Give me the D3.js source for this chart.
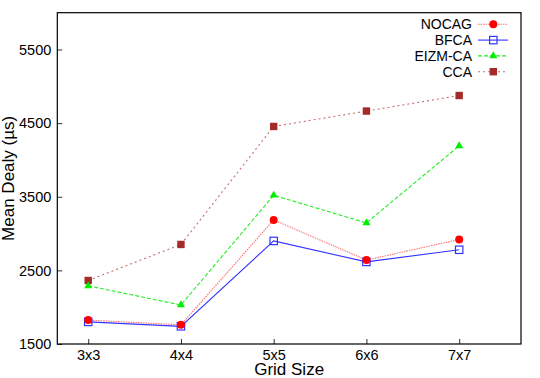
<!DOCTYPE html>
<html>
<head>
<meta charset="utf-8">
<script src="https://cdn.jsdelivr.net/npm/d3@7"></script>
<style>
  body { margin: 0; background: #fff; }
  svg text { font-family: "Liberation Sans", Arial, sans-serif; fill: #000; }
</style>
</head>
<body>
<div id="chart"></div>
<script>
const categories = ["3x3", "4x4", "5x5", "6x6", "7x7"]
const yTicks = [1500, 2500, 3500, 4500, 5500]

const nocag = [1825, 1760, 3185, 2640, 2920]
const bfca  = [1800, 1740, 2900, 2615, 2780]
const eizm  = [2290, 2030, 3520, 3145, 4192]
const cca   = [2363, 2852, 4455, 4664, 4875]

const seriesNames = ["NOCAG", "BFCA", "EIZM-CA", "CCA"]

const config = { width: 540, height: 378 }
const margin = { left: 57.3, right: 19, top: 12.7, bottom: 34 }

const styles = {
    "NOCAG":   { line: "#ff7070", dash: "1.5,1", marker: "circle", fill: "#ff0000", stroke: "#ff0000" },
    "BFCA":    { line: "#3333ff", dash: null, marker: "square-open", fill: "none", stroke: "#3333ff" },
    "EIZM-CA": { line: "#22ee22", dash: "4,2", marker: "triangle", fill: "#00ee00", stroke: "#00ee00" },
    "CCA":     { line: "#c07070", dash: "2,3", marker: "square", fill: "#a52a2a", stroke: "#a52a2a" }
}

const data = [nocag, bfca, eizm, cca].map((vals, i) => ({
    name: seriesNames[i],
    values: vals.map((v, j) => ({ idx: j, value: v }))
}))

const svg = d3.select("#chart")
              .append("svg")
              .attr("width", config.width)
              .attr("height", config.height)

const xScale = d3.scaleLinear()
                 .domain([-1 / 3, categories.length - 1 / 3])
                 .range([margin.left, config.width - margin.right])

const yScale = d3.scaleLinear()
                 .domain([1500, 6000])
                 .range([config.height - margin.bottom, margin.top])

const xAxis = d3.axisBottom(xScale)
                .tickValues(d3.range(categories.length))
                .tickFormat((i) => categories[i])
                .tickSizeInner(-5)
                .tickSizeOuter(0)
                .tickPadding(6)

const yAxis = d3.axisLeft(yScale)
                .tickValues(yTicks)
                .tickFormat(d3.format("d"))
                .tickSizeInner(-5)
                .tickSizeOuter(0)
                .tickPadding(6)

function styleAxis(g) {
    g.attr("font-size", null).attr("font-family", null)
    g.select(".domain").remove()
    g.selectAll("text").style("font-size", "14.5px")
    g.selectAll("line").attr("stroke", "#333")
}

svg.append("g")
   .attr("transform", `translate(0, ${config.height - margin.bottom})`)
   .call(xAxis)
   .call(styleAxis)

svg.append("g")
   .attr("transform", `translate(${margin.left}, 0)`)
   .call(yAxis)
   .call(styleAxis)

// frame
svg.append("rect")
   .attr("x", margin.left)
   .attr("y", margin.top)
   .attr("width", config.width - margin.right - margin.left)
   .attr("height", config.height - margin.bottom - margin.top)
   .attr("fill", "none")
   .attr("stroke", "#000")
   .attr("stroke-width", 1.2)

// axis titles
svg.append("text")
   .attr("x", (margin.left + config.width - margin.right) / 2)
   .attr("y", 375)
   .attr("text-anchor", "middle")
   .style("font-size", "17px")
   .text("Grid Size")

svg.append("text")
   .attr("transform", `translate(14, ${(margin.top + config.height - margin.bottom) / 2}) rotate(-90)`)
   .attr("text-anchor", "middle")
   .style("font-size", "17px")
   .text("Mean Dealy (µs)")

const line = d3.line()
               .x((d) => xScale(d.idx))
               .y((d) => yScale(d.value))

function drawMarker(g, type, x, y, st) {
    if (type === "circle") {
        g.append("circle").attr("cx", x).attr("cy", y).attr("r", 4)
         .attr("fill", st.fill)
    } else if (type === "square") {
        g.append("rect").attr("x", x - 3.7).attr("y", y - 3.7).attr("width", 7.4).attr("height", 7.4)
         .attr("fill", st.fill)
    } else if (type === "square-open") {
        g.append("rect").attr("x", x - 3.7).attr("y", y - 3.7).attr("width", 7.4).attr("height", 7.4)
         .attr("fill", "none").attr("stroke", st.stroke).attr("stroke-width", 1.2)
    } else if (type === "triangle") {
        g.append("path")
         .attr("d", d3.symbol().type(d3.symbolTriangle).size(28)())
         .attr("transform", `translate(${x}, ${y})`)
         .attr("fill", st.fill)
    }
}

// draw series back to front
const order = ["CCA", "EIZM-CA", "BFCA", "NOCAG"]
order.forEach((name) => {
    const s = data.find((d) => d.name === name)
    const st = styles[name]
    const g = svg.append("g")
    g.append("path")
     .datum(s.values)
     .attr("d", line)
     .attr("fill", "none")
     .attr("stroke", st.line)
     .attr("stroke-width", 1.1)
     .attr("stroke-dasharray", st.dash)
    s.values.forEach((d) => drawMarker(g, st.marker, xScale(d.idx), yScale(d.value), st))
})

// legend
const legend = svg.append("g")
seriesNames.forEach((name, i) => {
    const st = styles[name]
    const y = 24.3 + i * 15.8
    legend.append("text")
          .attr("x", 472)
          .attr("y", y)
          .attr("dy", "0.35em")
          .attr("text-anchor", "end")
          .style("font-size", "14px")
          .text(name)
    legend.append("line")
          .attr("x1", 478).attr("x2", 508)
          .attr("y1", y).attr("y2", y)
          .attr("stroke", st.line)
          .attr("stroke-width", 1.1)
          .attr("stroke-dasharray", st.dash)
    drawMarker(legend, st.marker, 493.3, y, st)
})
</script>
</body>
</html>
